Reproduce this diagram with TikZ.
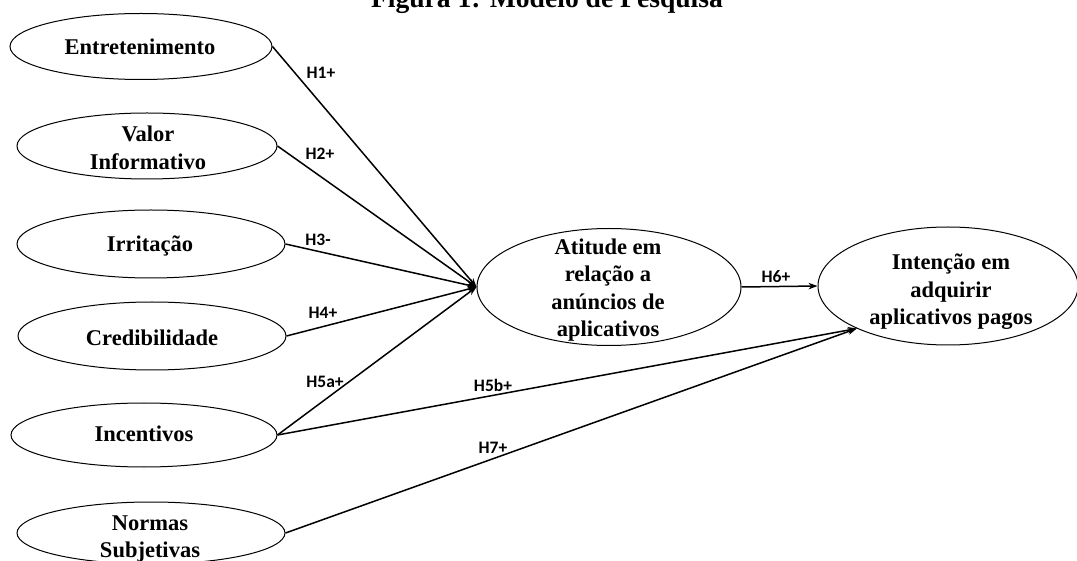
\documentclass[tikz,border=0pt]{standalone}
\usepackage{fontspec}
\setmainfont{Liberation Serif}
\newfontfamily\lblfont{Carlito}
\usetikzlibrary{shapes.geometric,arrows.meta}
\begin{document}
\begin{tikzpicture}[x=1pt,y=-1pt,
  construct/.style={draw=black, line width=1pt, ellipse, inner sep=0pt},
  ctext/.style={font=\fontsize{22.5}{27.5}\selectfont\bfseries, align=center, inner sep=0pt},
  hyp/.style={font=\lblfont\fontsize{17.5}{19}\selectfont\bfseries, inner sep=0pt},
  path/.style={line width=1.5pt, -{Stealth[length=9pt,width=6.5pt]}}
]
\useasboundingbox (0,0) rectangle (1077,561);
\node[font=\fontsize{27.6}{30}\selectfont\bfseries, anchor=base, inner sep=0pt] (title) at (547,7.5) {Figura 1: Modelo de Pesquisa};

\node[construct, minimum width=262pt, minimum height=66pt] (e1) at (141,46.5) {};
\node[construct, minimum width=260pt, minimum height=66pt] (e2) at (147,146) {};
\node[construct, minimum width=268pt, minimum height=68pt] (e3) at (151,244) {};
\node[construct, minimum width=268pt, minimum height=68pt] (e4) at (152,336) {};
\node[construct, minimum width=266pt, minimum height=64pt] (e5) at (144,435) {};
\node[construct, minimum width=268pt, minimum height=62pt] (e6) at (151,533) {};
\node[construct, minimum width=264pt, minimum height=117pt] (att) at (609,287) {};
\node[construct, minimum width=260pt, minimum height=118pt] (int) at (948,286) {};

\node[ctext] (t1) at (140,47) {Entretenimento};
\node[ctext] (t2) at (148,148) {Valor\\Informativo};
\node[ctext] (t3) at (150,246) {Irritação};
\node[ctext] (t4) at (152,338) {Credibilidade};
\node[ctext] (t5) at (144,434) {Incentivos};
\node[ctext] (t6) at (150,539) {Normas\\Subjetivas};
\node[ctext] (tatt) at (608,290) {Atitude em\\relação a\\anúncios de\\aplicativos};
\node[ctext] (tint) at (951,292) {Intenção em\\adquirir\\aplicativos pagos};

\coordinate (intin) at (int.205.5);
\draw[path] (e1.east) -- (att.west);
\draw[path] (e2.east) -- (att.west);
\draw[path] (e3.east) -- (att.west);
\draw[path] (e4.east) -- (att.west);
\draw[path] (e5.east) -- (att.west);
\draw[path] (e5.east) -- (intin);
\draw[path] (e6.east) -- (intin);
\draw[path] (att.east) -- (int.west);

\node[hyp] (h1) at (321,73) {H1+};
\node[hyp] (h2) at (320,154) {H2+};
\node[hyp] (h3) at (318,240) {H3-};
\node[hyp] (h4) at (323,313) {H4+};
\node[hyp] (h5a) at (325,382) {H5a+};
\node[hyp] (h5b) at (493,385) {H5b+};
\node[hyp] (h7) at (493,448) {H7+};
\node[hyp] (h6) at (776,277) {H6+};
\end{tikzpicture}
\end{document}
